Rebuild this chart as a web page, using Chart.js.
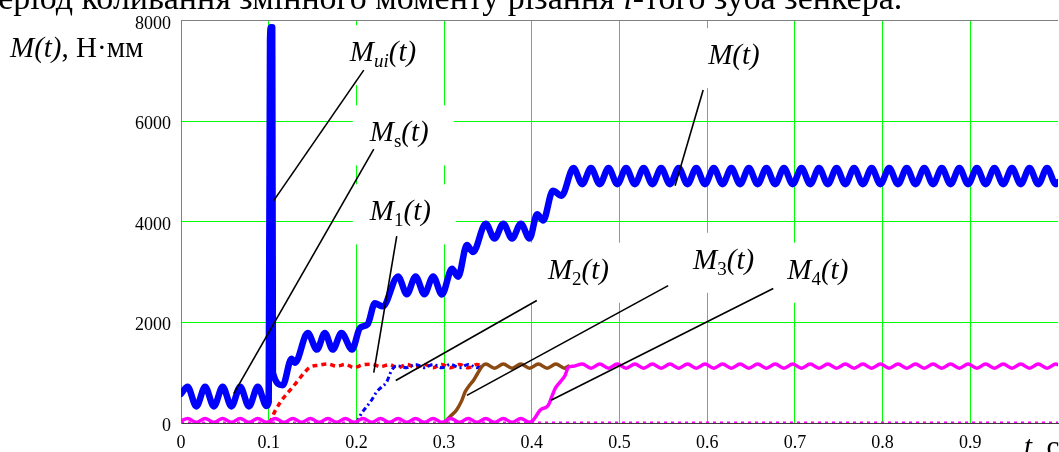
<!DOCTYPE html>
<html><head><meta charset="utf-8">
<style>html,body{margin:0;padding:0;background:#fff;overflow:hidden}canvas{display:block}</style>
<script src="https://cdn.jsdelivr.net/npm/chart.js@4.4.1/dist/chart.umd.min.js"></script>
</head><body>
<canvas id="c" width="1059" height="452"></canvas>
<script>
// ---------- tick values ----------
const xTickValues = [0, 0.1, 0.2, 0.3, 0.4, 0.5, 0.6, 0.7, 0.8, 0.9];
const xTickLabels = ['0', '0.1', '0.2', '0.3', '0.4', '0.5', '0.6', '0.7', '0.8', '0.9'];
const yTickValues = [0, 2000, 4000, 6000, 8000];

// ---------- M(t): total moment (blue, thick), incl. Mui spike and Ms start ----------
const mT = [0,0.0075,0.0175,0.0275,0.0375,0.0475,0.0575,0.0675,0.0775,0.0875,0.0975,0.1,0.1015,0.1025,0.104,0.1048,0.116,0.126,0.13,0.1445,0.155,0.164,0.173,0.183,0.195,0.204,0.213,0.221,0.23,0.2475,0.2575,0.2675,0.2775,0.2875,0.2975,0.309,0.316,0.326,0.333,0.3475,0.3575,0.3675,0.3775,0.3875,0.3975,0.406,0.413,0.424,0.434];
const mV = [580,720,330,720,330,720,330,720,330,720,340,420,7600,7870,7870,1000,750,1280,1200,1790,1460,1790,1460,1790,1460,1890,1970,2380,2320,2916,2562,2916,2562,2916,2556,3067,2910,3540,3400,3965,3670,3965,3670,3965,3670,4150,4030,4620,4520];
const mSteadyT = [0.4475,0.4575,0.4675,0.4775,0.4875,0.4975,0.5075,0.5175,0.5275,0.5375,0.5475,0.5575,0.5675,0.5775,0.5875,0.5975,0.6075,0.6175,0.6275,0.6375,0.6475,0.6575,0.6675,0.6775,0.6875,0.6975,0.7075,0.7175,0.7275,0.7375,0.7475,0.7575,0.7675,0.7775,0.7875,0.7975,0.8075,0.8175,0.8275,0.8375,0.8475,0.8575,0.8675,0.8775,0.8875,0.8975,0.9075,0.9175,0.9275,0.9375,0.9475,0.9575,0.9675,0.9775,0.9875,0.9975,1.0];
const mSteadyV = [5070,4750,5070,4750,5070,4750,5070,4750,5070,4750,5070,4750,5070,4750,5070,4750,5070,4750,5070,4750,5070,4750,5070,4750,5070,4750,5070,4750,5070,4750,5070,4750,5070,4750,5070,4750,5070,4750,5070,4750,5070,4750,5070,4750,5070,4750,5070,4750,5070,4750,5070,4750,5070,4750,5070,4750,4790];

// ---------- M1(t): red dashed ----------
const m1T = [0.1011,0.1068,0.1163,0.1259,0.1334,0.141,0.1468,0.1575,0.1675,0.1775,0.1875,0.1975,0.2075,0.2175,0.2275,0.2375,0.2475,0.2575,0.2675,0.2775,0.2875,0.2975,0.3075,0.3175,0.3275,0.3375,0.343];
const m1V = [0,222,486,682,845,1009,1107,1150,1175,1130,1165,1100,1160,1170,1120,1160,1100,1165,1100,1165,1100,1165,1100,1165,1100,1165,1130];

// ---------- M2(t): blue dash-dot ----------
const m2T = [0.2,0.2058,0.2115,0.2172,0.2229,0.2287,0.2344,0.24,0.2458,0.2575,0.2675,0.2775,0.2875,0.2975,0.3075,0.3175,0.3275,0.3375,0.343];
const m2V = [0,190,320,452,615,714,812,1042,1140,1100,1165,1100,1165,1100,1165,1100,1165,1100,1130];

// ---------- M3(t): brown ----------
const m3T = [0.3,0.307,0.314,0.32,0.324,0.329,0.334,0.338,0.343,0.3475,0.3575,0.3675,0.3775,0.3875,0.3975,0.4075,0.4175,0.4275,0.4375,0.4415];
const m3V = [0,130,255,440,620,750,860,980,1120,1175,1090,1175,1090,1175,1090,1175,1090,1175,1090,1130];

// ---------- M4(t): magenta (small ripple before engagement, ramp, steady) ----------
const m4LowT = [0,0.0075,0.0175,0.0275,0.0375,0.0475,0.0575,0.0675,0.0775,0.0875,0.0975,0.1075,0.1175,0.1275,0.1375,0.1475,0.1575,0.1675,0.1775,0.1875,0.1975,0.2075,0.2175,0.2275,0.2375,0.2475,0.2575,0.2675,0.2775,0.2875,0.2975,0.3075,0.3175,0.3275,0.3375,0.3475,0.3575,0.3675,0.3775,0.3875,0.3975];
const m4LowV = [45,90,15,90,15,90,15,90,15,90,15,90,15,90,15,90,15,90,15,90,15,90,15,90,15,90,15,90,15,90,15,90,15,90,15,90,15,90,15,90,15];
const m4RampT = [0.4017,0.4094,0.4188,0.4227,0.4265,0.4322,0.4379,0.4417,0.4475];
const m4RampV = [59,255,354,517,682,812,944,1107,1130];
const m4HighT = [0.4575,0.4675,0.4775,0.4875,0.4975,0.5075,0.5175,0.5275,0.5375,0.5475,0.5575,0.5675,0.5775,0.5875,0.5975,0.6075,0.6175,0.6275,0.6375,0.6475,0.6575,0.6675,0.6775,0.6875,0.6975,0.7075,0.7175,0.7275,0.7375,0.7475,0.7575,0.7675,0.7775,0.7875,0.7975,0.8075,0.8175,0.8275,0.8375,0.8475,0.8575,0.8675,0.8775,0.8875,0.8975,0.9075,0.9175,0.9275,0.9375,0.9475,0.9575,0.9675,0.9775,0.9875,0.9975,1.0];
const m4HighV = [1175,1090,1175,1090,1175,1090,1175,1090,1175,1090,1175,1090,1175,1090,1175,1090,1175,1090,1175,1090,1175,1090,1175,1090,1175,1090,1175,1090,1175,1090,1175,1090,1175,1090,1175,1090,1175,1090,1175,1090,1175,1090,1175,1090,1175,1090,1175,1090,1175,1090,1175,1090,1175,1090,1175,1160];

// ---------- zero line (magenta dotted) ----------
const zeroT = [0, 1];
const zeroV = [0, 0];

// ---------- annotation labels (anchor = left/baseline, in data units) ----------
const labelDefs = [
  {parts:[['M',1,0],['(t)',1,0]], at:[0.6011,7137], line:[0.5954,6625,0.5634,4718]},
  {parts:[['M',1,0],['ui',1,1],['(t)',1,0]], at:[0.1925,7196], line:[0.2084,7019,0.1057,4424]},
  {parts:[['M',1,0],['s',0,1],['(t)',1,0]], at:[0.2153,5603], line:[0.2198,5446,0.0603,590]},
  {parts:[['M',1,0],['1',0,1],['(t)',1,0]], at:[0.2153,4030], line:[0.246,3716,0.2198,1003]},
  {parts:[['M',1,0],['2',0,1],['(t)',1,0]], at:[0.4184,2870], line:[0.4057,2438,0.2449,845]},
  {parts:[['M',1,0],['3',0,1],['(t)',1,0]], at:[0.5839,3067], line:[0.5555,2733,0.326,550]},
  {parts:[['M',1,0],['4',0,1],['(t)',1,0]], at:[0.6913,2870], line:[0.6753,2674,0.4219,452]}
];

const pts = (ts, vs) => ts.map((t, i) => ({x: t, y: vs[i]}));
const FONT = '"Liberation Serif","Times New Roman",serif';
const LSIZE = 29;

function partsWidth(ctx, parts, size) {
  let w = 0;
  for (const [t, it, sub] of parts) {
    const s = sub ? Math.round(size * 0.66) : size;
    ctx.font = (it ? 'italic ' : '') + s + 'px ' + FONT;
    w += ctx.measureText(t).width;
  }
  return w;
}
function drawParts(ctx, parts, x, y, size) {
  ctx.fillStyle = '#000';
  ctx.textBaseline = 'alphabetic';
  ctx.textAlign = 'left';
  for (const [t, it, sub] of parts) {
    const s = sub ? Math.round(size * 0.66) : size;
    ctx.font = (it ? 'italic ' : '') + s + 'px ' + FONT;
    ctx.fillText(t, x, y + (sub ? 6 : 0));
    x += ctx.measureText(t).width;
  }
  return x;
}

const annotPlugin = {
  id: 'annot',
  beforeDatasetsDraw(chart) {
    const {ctx, scales: {x, y}} = chart;
    ctx.save();
    ctx.fillStyle = '#fff';
    for (const L of labelDefs) {
      const px = x.getPixelForValue(L.at[0]), py = y.getPixelForValue(L.at[1]);
      const w = partsWidth(ctx, L.parts, LSIZE);
      ctx.fillRect(px - 17, py - 36, w + 42, 60);
    }
    ctx.restore();
  },
  afterDatasetsDraw(chart) {
    const {ctx, scales: {x, y}} = chart;
    ctx.save();
    ctx.strokeStyle = '#000';
    ctx.lineWidth = 1.6;
    for (const L of labelDefs) {
      const l = L.line;
      ctx.beginPath();
      ctx.moveTo(x.getPixelForValue(l[0]), y.getPixelForValue(l[1]));
      ctx.lineTo(x.getPixelForValue(l[2]), y.getPixelForValue(l[3]));
      ctx.stroke();
    }
    for (const L of labelDefs) {
      drawParts(ctx, L.parts, x.getPixelForValue(L.at[0]), y.getPixelForValue(L.at[1]), LSIZE);
    }
    ctx.restore();
  },
  afterDraw(chart) {
    const {ctx} = chart;
    ctx.save();
    // cut-off caption line above the figure
    drawParts(ctx, [['період коливання змінного моменту різання ',0,0],['i',1,0],['-того зуба зенкера.',0,0]], -20, 9, 34);
    // y axis title
    drawParts(ctx, [['M(t)',1,0],[', Н·мм',0,0]], 10, 57, LSIZE);
    // x axis title
    drawParts(ctx, [['t',1,0],[', с',0,0]], 1024, 456, LSIZE);
    ctx.restore();
  }
};

const common = {pointRadius: 0, fill: false, cubicInterpolationMode: 'monotone', borderJoinStyle: 'round'};

new Chart(document.getElementById('c').getContext('2d'), {
  type: 'line',
  data: {
    datasets: [
      Object.assign({label: 'M(t)', data: pts(mT.concat(mSteadyT), mV.concat(mSteadyV)), borderColor: '#0000ff', borderWidth: 6.5, borderCapStyle: 'round'}, common),
      Object.assign({label: 'M4(t)', data: pts(m4LowT.concat(m4RampT, m4HighT), m4LowV.concat(m4RampV, m4HighV)), borderColor: '#ff00ff', borderWidth: 3.5, borderCapStyle: 'round'}, common),
      Object.assign({label: 'M3(t)', data: pts(m3T, m3V), borderColor: '#8b4a12', borderWidth: 3.5, borderCapStyle: 'round'}, common),
      Object.assign({label: 'M2(t)', data: pts(m2T, m2V), borderColor: '#0000ff', borderWidth: 3, borderDash: [5, 3, 2, 3]}, common),
      Object.assign({label: 'M1(t)', data: pts(m1T, m1V), borderColor: '#ff0000', borderWidth: 3.5, borderDash: [5, 4]}, common),
      Object.assign({label: 'zero', data: pts(zeroT, zeroV), borderColor: '#ff00ff', borderWidth: 3, borderDash: [3, 4]}, common)
    ]
  },
  options: {
    responsive: false,
    animation: false,
    devicePixelRatio: 1,
    layout: {padding: {top: 16, right: 1, left: 0, bottom: 0}},
    plugins: {legend: {display: false}, tooltip: {enabled: false}, title: {display: false}},
    scales: {
      x: {
        type: 'linear', min: 0, max: 1,
        afterFit(s) { s.height = 29; },
        afterBuildTicks(s) { s.ticks = xTickValues.map(v => ({value: v})); },
        ticks: {autoSkip: false, maxRotation: 0, padding: 9, color: '#000',
          font: {family: 'Liberation Serif', size: 18},
          callback: (v, i) => xTickLabels[i]},
        grid: {color: '#00ff00', lineWidth: 1, drawTicks: false},
        border: {color: '#404040', width: 1}
      },
      y: {
        min: 0, max: 8000,
        afterFit(s) { s.width = 181; },
        afterBuildTicks(s) { s.ticks = yTickValues.map(v => ({value: v})); },
        ticks: {padding: 10, labelOffset: 3, color: '#000',
          font: {family: 'Liberation Serif', size: 18},
          callback: v => String(v)},
        grid: {color: c => (c.tick && c.tick.value === 8000) ? '#808080' : '#00ff00', lineWidth: 1, drawTicks: false},
        border: {color: '#808080', width: 1}
      }
    }
  },
  plugins: [annotPlugin]
});
</script>
</body></html>
